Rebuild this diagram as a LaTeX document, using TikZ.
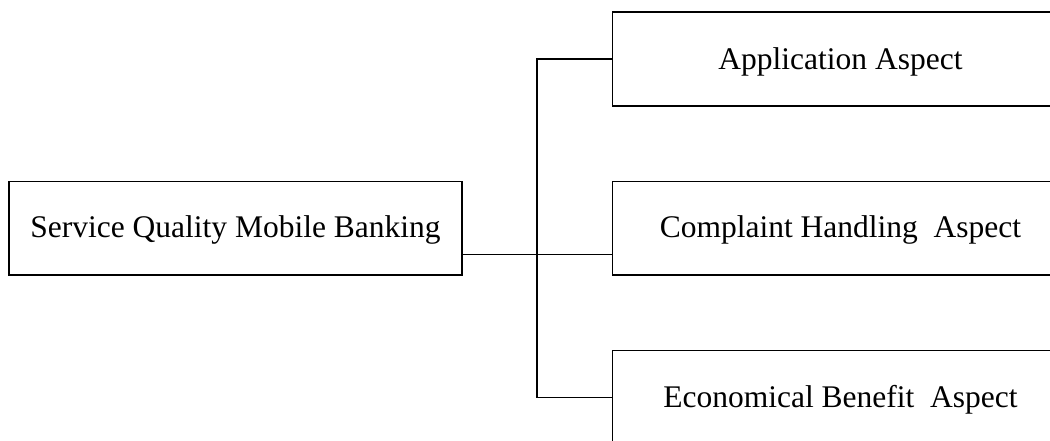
\documentclass[tikz,border=0pt]{standalone}
\usepackage{fontspec}
\setmainfont{Liberation Serif}
\begin{document}
\begin{tikzpicture}[x=1pt,y=-1pt,
  box/.style={draw=black,line width=1.6pt,rectangle,inner sep=0pt,
    text height=24pt,text depth=5pt,
    font=\fontsize{31.5}{38}\selectfont},
  conn/.style={draw=black,line width=1.6pt}]
\clip (0,0) rectangle (1050,441);
\fill[white] (0,0) rectangle (1050,441);
\node[box,minimum width=452.5pt,minimum height=93.5pt] (left) at (235.5,228.3) {Service Quality Mobile Banking};
\node[box,minimum width=456pt,minimum height=94pt,text height=25pt,text depth=4.4pt] (top) at (840.5,59) {Application Aspect};
\node[box,minimum width=456pt,minimum height=93.5pt] (mid) at (840.5,228.3) {Complaint Handling~ Aspect};
\node[box,minimum width=456pt,minimum height=94pt] (bot) at (840.5,397.5) {Economical Benefit~ Aspect};
\coordinate (jm) at (537,254.3);
\draw[conn] (jm -| left.east) -- (jm -| mid.west);
\draw[conn] (top.west) -| (jm);
\draw[conn] (bot.west) -| (jm);
\end{tikzpicture}
\end{document}
